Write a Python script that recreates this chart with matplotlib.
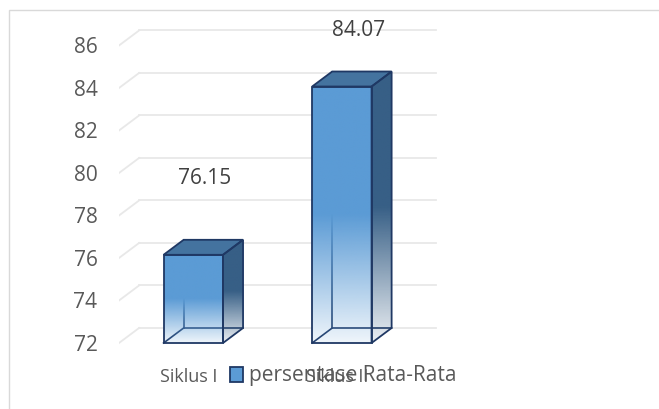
import numpy as np
import matplotlib
matplotlib.use("Agg")
import matplotlib.pyplot as plt
from matplotlib.patches import Polygon, Rectangle, Patch
from matplotlib.colors import to_rgb

# data
categories = ["Siklus I", "Siklus II"]
values = [76.15, 84.07]
series_name = "persentase Rata-Rata"
yticks = [72, 74, 76, 78, 80, 82, 84, 86]
base = 72

plt.rcParams['font.family'] = ['Open Sans', 'DejaVu Sans']

fig = plt.figure(figsize=(6.59, 4.09), dpi=100)
ax = fig.add_axes([119 / 659, 0, 1 - 119 / 659, 1])
ax.patch.set_visible(False)
for s in ax.spines.values():
    s.set_visible(False)

# fake 3d depth (data units)
dx, dy = 0.135, 0.706
hw = 0.2
edge = '#1F3864'
front_col = '#5B9BD5'
side_col = '#375F86'
top_col = '#44739F'


def grad_face(verts, color, y0, y1, z):
    poly = Polygon(verts, closed=True, facecolor='none', edgecolor='none')
    ax.add_patch(poly)
    n = 256
    t = np.linspace(0, 1, n)
    alpha = np.clip(0.1 + 0.9 * t / 0.5, 0, 1)
    rgba = np.zeros((n, 1, 4))
    rgba[..., :3] = to_rgb(color)
    rgba[:, 0, 3] = alpha
    xs = [p[0] for p in verts]
    im = ax.imshow(rgba, extent=(min(xs), max(xs), y0, y1), origin='lower',
                   aspect='auto', zorder=z, interpolation='bilinear')
    im.set_clip_path(poly)


# back wall gridlines + side wall diagonals
for v in yticks:
    ax.plot([-0.5 + dx, 1.5 + dx], [v + dy, v + dy], color='#E8E8E8', lw=1.3, zorder=1)
    ax.plot([-0.5, -0.5 + dx], [v, v + dy], color='#E8E8E8', lw=1.3, zorder=1)

for i, v in enumerate(values):
    x0, x1 = i - hw, i + hw
    front = [(x0, base), (x1, base), (x1, v), (x0, v)]
    side = [(x1, base), (x1 + dx, base + dy), (x1 + dx, v + dy), (x1, v)]
    top = [(x0, v), (x0 + dx, v + dy), (x1 + dx, v + dy), (x1, v)]

    ax.add_patch(Polygon(front, closed=True, facecolor='white', edgecolor='none', zorder=1.5))
    ax.add_patch(Polygon(side, closed=True, facecolor='white', edgecolor='none', zorder=1.5))

    # hidden edges, seen through the faded bottom
    ax.plot([x0, x0 + dx, x1 + dx], [base, base + dy, base + dy], color=edge, lw=1.2, zorder=2)
    ax.plot([x0 + dx, x0 + dx], [base + dy, v + dy], color=edge, lw=1.2, zorder=2)

    grad_face(front, front_col, base, v, 3)
    grad_face(side, side_col, base, v + dy, 3)
    ax.add_patch(Polygon(top, closed=True, facecolor=top_col, edgecolor=edge, lw=1.3, zorder=4))
    ax.add_patch(Polygon(front, closed=True, facecolor='none', edgecolor=edge, lw=1.3, zorder=4))
    ax.add_patch(Polygon(side, closed=True, facecolor='none', edgecolor=edge, lw=1.3, zorder=4))

# data labels (moved by hand in the original)
label_off = [(8, 55), (12, 40)]
for i, v in enumerate(values):
    ax.annotate(f"{v:.2f}", xy=(i, v), xytext=label_off[i], textcoords='offset points',
                ha='center', va='center', fontsize=15, color='#404040')

for i, c in enumerate(categories):
    ax.annotate(c, xy=(i, base), xytext=(-3, -24.5), textcoords='offset points',
                ha='center', va='center', fontsize=13, color='#595959')

ax.set_xticks([])
ax.set_yticks(yticks)
ax.tick_params(axis='y', length=0, pad=15.5, labelsize=15, labelcolor='#595959')
ax.set_xlim(-0.5, 3.1347)
ax.set_ylim(68.894, 88.141)

handle = Patch(facecolor=front_col, edgecolor=edge, lw=1.3)
fig.legend([handle], [series_name], loc='center', bbox_to_anchor=(343 / 659, 1 - 376 / 409),
           frameon=False, fontsize=15, labelcolor='#595959', handlelength=0.63,
           handleheight=0.72, handletextpad=0.3, borderpad=0)

fig.add_artist(Rectangle((9 / 659, -0.1), 1.2, 1.1 - 9.5 / 409, transform=fig.transFigure,
                         fill=False, edgecolor='#D9D9D9', lw=1))

fig.savefig("out.png", dpi=100)
